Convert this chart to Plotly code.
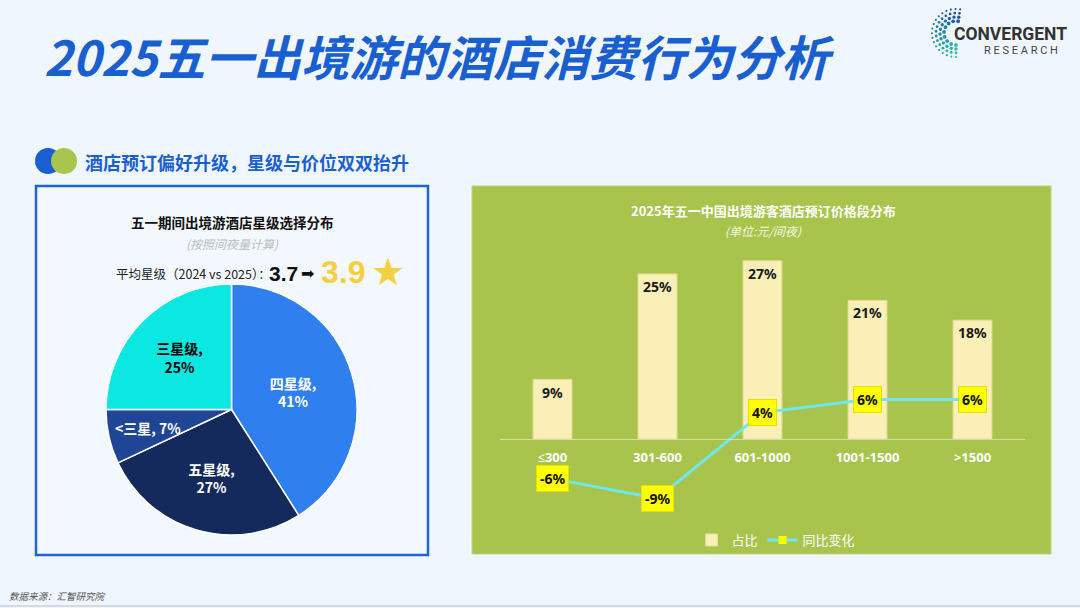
import math
import plotly.graph_objects as go

# ---------------- data ----------------
star_labels = ["四星级", "五星级", "<三星", "三星级"]
star_values = [41, 27, 7, 25]
star_colors = ["#2F80EE", "#142A5C", "#1F4597", "#0BE8E2"]
star_text_colors = ["white", "white", "white", "black"]

price_bins = ["≤300", "301-600", "601-1000", "1001-1500", ">1500"]
price_share = [9, 25, 27, 21, 18]
price_yoy = [-6, -9, 4, 6, 6]

avg_star_2024 = "3.7"
avg_star_2025 = "3.9"

W, H = 1080, 608
def px(x):
    return x / W
def py(y):
    return 1 - y / H

PAGE_BG = "#F0F6FE"
BLUE = "#1A5FD0"
GREEN = "#A8C44C"
CJK = "Noto Sans CJK SC"

fig = go.Figure()

# ---------------- pie ----------------
PIE_CX, PIE_CY, PIE_R = 231.5, 409.5, 125.5
small = [v < 10 for v in star_values]
pie_templates = ["" if s else "%{label},<br>%{value}%" for s in small]
fig.add_trace(go.Pie(
    labels=star_labels,
    values=star_values,
    sort=False,
    direction="clockwise",
    rotation=0,
    marker=dict(colors=star_colors, line=dict(color="white", width=1.5)),
    texttemplate=pie_templates,
    textposition="inside",
    insidetextorientation="horizontal",
    textfont=dict(color=star_text_colors, size=14, family=CJK, weight="bold"),
    hoverinfo="skip",
    showlegend=False,
    domain=dict(x=[px(PIE_CX - PIE_R), px(PIE_CX + PIE_R)],
                y=[py(PIE_CY + PIE_R), py(PIE_CY - PIE_R)]),
))

annotations = []
# label for the thin slice, placed along the slice's mid-angle (derived from the values)
total = sum(star_values)
cum = 0
for lab, v, s, col in zip(star_labels, star_values, small, star_text_colors):
    mid = 2 * math.pi * (cum + v / 2) / total
    cum += v
    if s:
        r = 0.68 * PIE_R
        annotations.append(dict(
            x=px(PIE_CX + r * math.sin(mid)), y=py(PIE_CY - r * math.cos(mid)),
            xref="paper", yref="paper", showarrow=False,
            xanchor="center", yanchor="middle",
            text=f"<b>{lab.replace('<', '&lt;')}, {v}%</b>",
            font=dict(color=col, size=14, family=CJK),
        ))

# ---------------- bars + line ----------------
fig.add_trace(go.Bar(
    x=price_bins,
    y=price_share,
    name="占比",
    width=0.37,
    marker=dict(color="#FAEFB6", line=dict(color="#E6DE9A", width=1)),
    text=[f"{v}%" for v in price_share],
    textposition="inside",
    insidetextanchor="end",
    textangle=0,
    textfont=dict(color="#1A1A1A", size=14, family="Noto Sans", weight="bold"),
    hoverinfo="skip",
))
fig.add_trace(go.Scatter(
    x=price_bins,
    y=price_yoy,
    name="同比变化",
    mode="lines+markers",
    line=dict(color="#6EE8EE", width=3),
    marker=dict(symbol="square", size=8, color="#FFFF00"),
    hoverinfo="skip",
))

for cat, v in zip(price_bins, price_yoy):
    annotations.append(dict(
        x=cat, y=v, xref="x", yref="y", text=f"<b>{v}%</b>", showarrow=False,
        xanchor="center", yanchor="middle",
        bgcolor="#FFFF00", bordercolor="#E2E200", borderwidth=1, borderpad=3,
        font=dict(color="#111111", size=14, family="Noto Sans"),
    ))

# ---------------- texts ----------------
def txt(x, y, text, size, color, xanchor="center", family=CJK, yanchor="middle"):
    annotations.append(dict(
        x=px(x), y=py(y), xref="paper", yref="paper", text=text, showarrow=False,
        xanchor=xanchor, yanchor=yanchor, font=dict(size=size, color=color, family=family),
    ))

txt(42, 55, "<b><i>2025五一出境游的酒店消费行为分析</i></b>", 48, BLUE, xanchor="left")
txt(83, 162, "<b>酒店预订偏好升级，星级与价位双双抬升</b>", 18, BLUE, xanchor="left")
txt(232, 222, "<b>五一期间出境游酒店星级选择分布</b>", 13.5, "#111111")
txt(232, 243, "<i>(按照间夜量计算)</i>", 12, "#B8BCC4")
txt(114, 274, "平均星级（2024 vs 2025）：", 12.5, "#222222", xanchor="left")
txt(267, 274, f"<b>{avg_star_2024}</b>", 21, "#111111", xanchor="left", family="Liberation Sans")
txt(299, 273, "➡", 16, "#111111", xanchor="left", family="DejaVu Sans")
txt(319, 272, f"<b>{avg_star_2025}</b>", 32, "#F5D03E", xanchor="left", family="Liberation Sans")
txt(369, 272, "★", 38, "#F5D03E", xanchor="left", family="DejaVu Sans")

txt(763, 210, "<b>2025年五一中国出境游客酒店预订价格段分布</b>", 13, "white")
txt(763, 230, "<i>(单位:元/间夜)</i>", 12, "#F4F8E6")

txt(7, 596, "<i>数据来源：汇智研究院</i>", 9.5, "#555555", xanchor="left")

# logo
txt(952, 34, "<b>CONVERGENT</b>", 17.5, "#333333", xanchor="left", family="Roboto")
txt(982, 50, "R E S E A R C H", 11, "#444444", xanchor="left", family="Roboto")

# ---------------- shapes ----------------
shapes = [
    dict(type="rect", xref="paper", yref="paper", x0=px(36), x1=px(428), y0=py(555), y1=py(186),
         line=dict(color="#1D63D1", width=2.5), fillcolor="#F3F8FE", layer="below"),
    dict(type="rect", xref="paper", yref="paper", x0=px(472), x1=px(1051), y0=py(554), y1=py(186),
         line=dict(color="#BFD57C", width=1), fillcolor=GREEN, layer="below"),
    dict(type="circle", xref="paper", yref="paper", x0=px(35), x1=px(61), y0=py(174), y1=py(148),
         line=dict(width=0), fillcolor=BLUE),
    dict(type="circle", xref="paper", yref="paper", x0=px(51), x1=px(77), y0=py(174), y1=py(148),
         line=dict(width=0), fillcolor=GREEN),
    dict(type="line", xref="paper", yref="paper", x0=0, x1=1, y0=py(606), y1=py(606),
         line=dict(color="#D6DAE0", width=2)),
]

# logo dots (decorative arc)
cx, cy = 956, 33
rings = [(12, 1.9), (16, 1.7), (20, 1.4), (24, 1.1)]
for ri, (r, s) in enumerate(rings):
    n = 9 + ri * 3
    for k in range(n):
        ang = math.radians(80 + 190 * k / (n - 1))
        x = cx + r * math.cos(ang)
        y = cy - r * math.sin(ang)
        t = k / (n - 1)
        c1, c2 = (31, 80, 168), (43, 190, 170)
        col = "rgb(%d,%d,%d)" % tuple(int(a + (b - a) * t) for a, b in zip(c1, c2))
        shapes.append(dict(type="circle", xref="paper", yref="paper",
                           x0=px(x - s), x1=px(x + s), y0=py(y + s), y1=py(y - s),
                           line=dict(width=0), fillcolor=col))

y_lo, y_hi = -15, 30
y_dom = [py(439 + 6.6 * (-y_lo)), py(439 - 6.6 * y_hi)]

fig.update_layout(
    width=W, height=H,
    margin=dict(l=0, r=0, t=0, b=0),
    paper_bgcolor=PAGE_BG,
    plot_bgcolor="rgba(0,0,0,0)",
    font=dict(family=CJK),
    shapes=shapes,
    annotations=annotations,
    uniformtext=dict(minsize=13, mode="show"),
    xaxis=dict(
        domain=[px(500), px(1025)], anchor="free", position=py(439),
        showline=True, linecolor="#D5DDA0", linewidth=1, ticks="", showgrid=False,
        zeroline=False, tickfont=dict(color="white", size=13, family="Noto Sans", weight="bold"),
        ticklabelstandoff=6, fixedrange=True,
    ),
    yaxis=dict(domain=y_dom, range=[y_lo, y_hi], visible=False, showgrid=False,
               zeroline=False, fixedrange=True),
    legend=dict(orientation="h", x=px(776), xanchor="center", y=py(540), yanchor="middle",
                font=dict(color="white", size=13, family=CJK), bgcolor="rgba(0,0,0,0)",
                itemwidth=30),
    showlegend=True,
)

fig.write_html("out.html", config={"displayModeBar": False},
               post_script="document.body.style.margin='0px';")
